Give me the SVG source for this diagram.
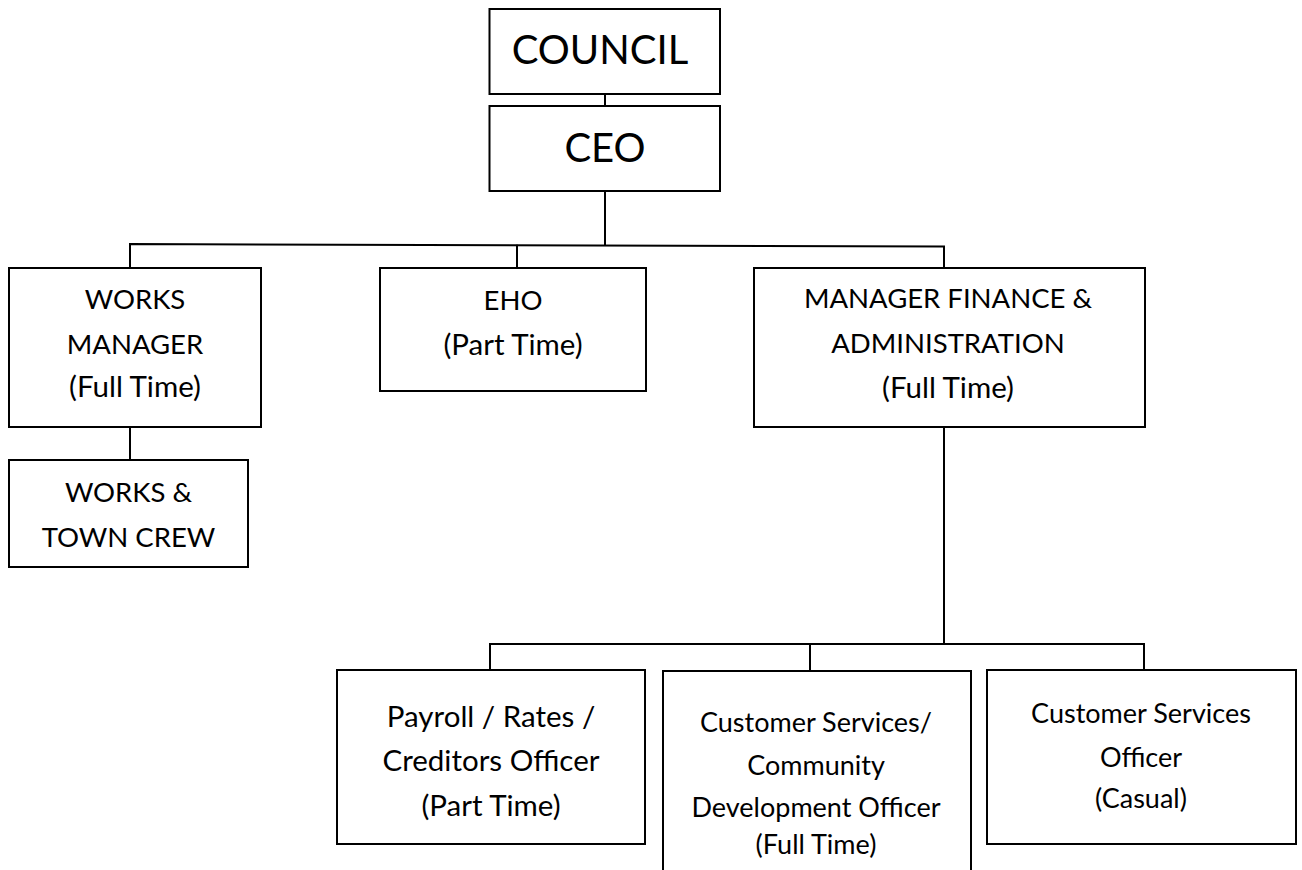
<svg xmlns="http://www.w3.org/2000/svg" width="1302" height="870" viewBox="0 0 1302 870">
<style>
.box{fill:#fff;stroke:#000;stroke-width:2}
.ln{fill:none;stroke:#000;stroke-width:2}
text{font-family:Lato,"Open Sans","Liberation Sans",sans-serif;fill:#000;text-anchor:middle}
.big{font-size:40px}
.t{font-size:29.5px}
.u{font-size:27.5px}
.s{font-size:27px}
</style>
<rect width="1302" height="870" fill="#fff"/>
<g id="connectors">
<path class="ln" d="M605,94 V106"/>
<path class="ln" d="M605,191 V245"/>
<path class="ln" d="M130,268 V244 L944,246.5 V268"/>
<path class="ln" d="M517,244.8 V268"/>
<path class="ln" d="M130,427 V460"/>
<path class="ln" d="M944,427 V644"/>
<path class="ln" d="M490,670 V644 H1144 V670"/>
<path class="ln" d="M810,644 V671"/>
</g>
<g id="council">
<rect class="box" x="489.5" y="9" width="230.5" height="85"/>
<text class="big" x="600" y="64">COUNCIL</text>
</g>
<g id="ceo">
<rect class="box" x="489.5" y="106" width="230.5" height="85"/>
<text class="big" x="605" y="162">CEO</text>
</g>
<g id="works-manager">
<rect class="box" x="9" y="268" width="252" height="159"/>
<text class="u" x="135" y="309">WORKS</text>
<text class="u" x="135" y="354">MANAGER</text>
<text class="t" x="135" y="397">(Full Time)</text>
</g>
<g id="works-crew">
<rect class="box" x="9" y="460" width="239" height="107"/>
<text class="u" x="128.5" y="502">WORKS &amp;</text>
<text class="u" x="128.5" y="547">TOWN CREW</text>
</g>
<g id="eho">
<rect class="box" x="380" y="268" width="266" height="123"/>
<text class="u" x="513" y="310">EHO</text>
<text class="t" x="513" y="355">(Part Time)</text>
</g>
<g id="manager-finance">
<rect class="box" x="754" y="268" width="391" height="159"/>
<text class="u" x="948" y="308">MANAGER FINANCE &amp;</text>
<text class="u" x="948" y="353">ADMINISTRATION</text>
<text class="t" x="948" y="398">(Full Time)</text>
</g>
<g id="payroll">
<rect class="box" x="337" y="670" width="308" height="174"/>
<text class="t" x="491" y="727">Payroll / Rates /</text>
<text class="t" x="491" y="771">Creditors Officer</text>
<text class="t" x="491" y="816">(Part Time)</text>
</g>
<g id="cs-community">
<rect class="box" x="663" y="671" width="308" height="220"/>
<text class="s" x="816" y="732">Customer Services/</text>
<text class="s" x="816" y="775">Community</text>
<text class="s" x="816" y="817">Development Officer</text>
<text class="s" x="816" y="854">(Full Time)</text>
</g>
<g id="cs-officer">
<rect class="box" x="987" y="670" width="309" height="174"/>
<text class="s" x="1141" y="723">Customer Services</text>
<text class="s" x="1141" y="767">Officer</text>
<text class="s" x="1141" y="808">(Casual)</text>
</g>
</svg>
